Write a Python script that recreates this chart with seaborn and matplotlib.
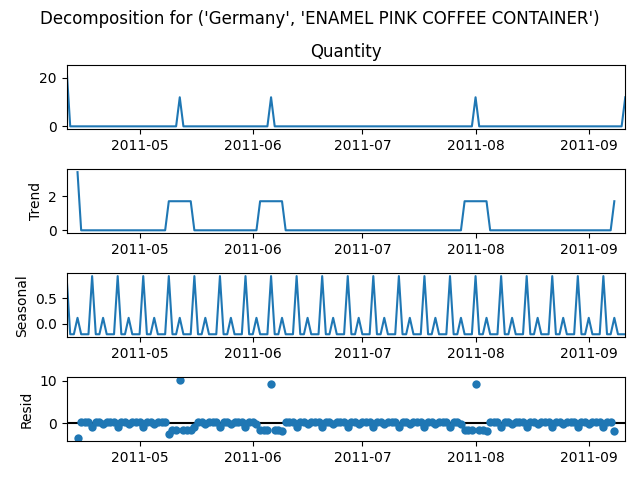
import numpy as np
import pandas as pd
import matplotlib
matplotlib.use("Agg")
import matplotlib.pyplot as plt
import seaborn as sns

# --- DATA ---
COUNTRY = "Germany"
PRODUCT = "ENAMEL PINK COFFEE CONTAINER"
START_DATE = "2011-04-11"
END_DATE = "2011-09-11"
# days with sales; every other day is 0
spike_dates = ["2011-04-11", "2011-05-12", "2011-06-06", "2011-08-01", "2011-09-11"]
spike_qty = [24, 12, 12, 12, 12]
PERIOD = 7

# daily series, zero where nothing was sold
days = pd.date_range(START_DATE, END_DATE, freq="D")
observed = pd.Series(spike_qty, index=pd.to_datetime(spike_dates), name="Quantity")
observed = observed.reindex(days, fill_value=0).astype(float)

# additive decomposition (centred moving average, like seasonal_decompose)
trend = observed.rolling(PERIOD, center=True).mean()
detrended = observed - trend
pos = np.arange(len(observed)) % PERIOD
period_avg = detrended.groupby(pos).mean()
period_avg = period_avg - period_avg.mean()
seasonal = pd.Series(period_avg.values[pos], index=days)
resid = observed - trend - seasonal

xlim = (days[0], days[-1])
blue = "#1f77b4"

fig, axs = plt.subplots(4, 1, figsize=(6.4, 4.8), dpi=100)

parts = [(observed, "Quantity"), (trend, "Trend"), (seasonal, "Seasonal"), (resid, "Resid")]
for i, (ax, (s, name)) in enumerate(zip(axs, parts)):
    df = pd.DataFrame({"ds": s.index, "y": s.values}).dropna()
    if name != "Resid":
        sns.lineplot(data=df, x="ds", y="y", ax=ax, color=blue, linewidth=1.5)
    else:
        sns.scatterplot(data=df, x="ds", y="y", ax=ax, color=blue, s=36, linewidth=0)
        ax.plot(xlim, (0, 0), color="#000000", zorder=-3)
    ax.set_xlabel("")
    if i == 0:
        ax.set_ylabel("")
        ax.set_title(name)
    else:
        ax.set_ylabel(name)
    ax.set_xlim(xlim)

fig.suptitle(f"Decomposition for ('{COUNTRY}', '{PRODUCT}')")
fig.tight_layout()
# same spacing as the original figure
fig.subplots_adjust(left=0.104, right=0.977, top=0.864, bottom=0.081, hspace=0.625)
fig.savefig("out.png", dpi=100)
